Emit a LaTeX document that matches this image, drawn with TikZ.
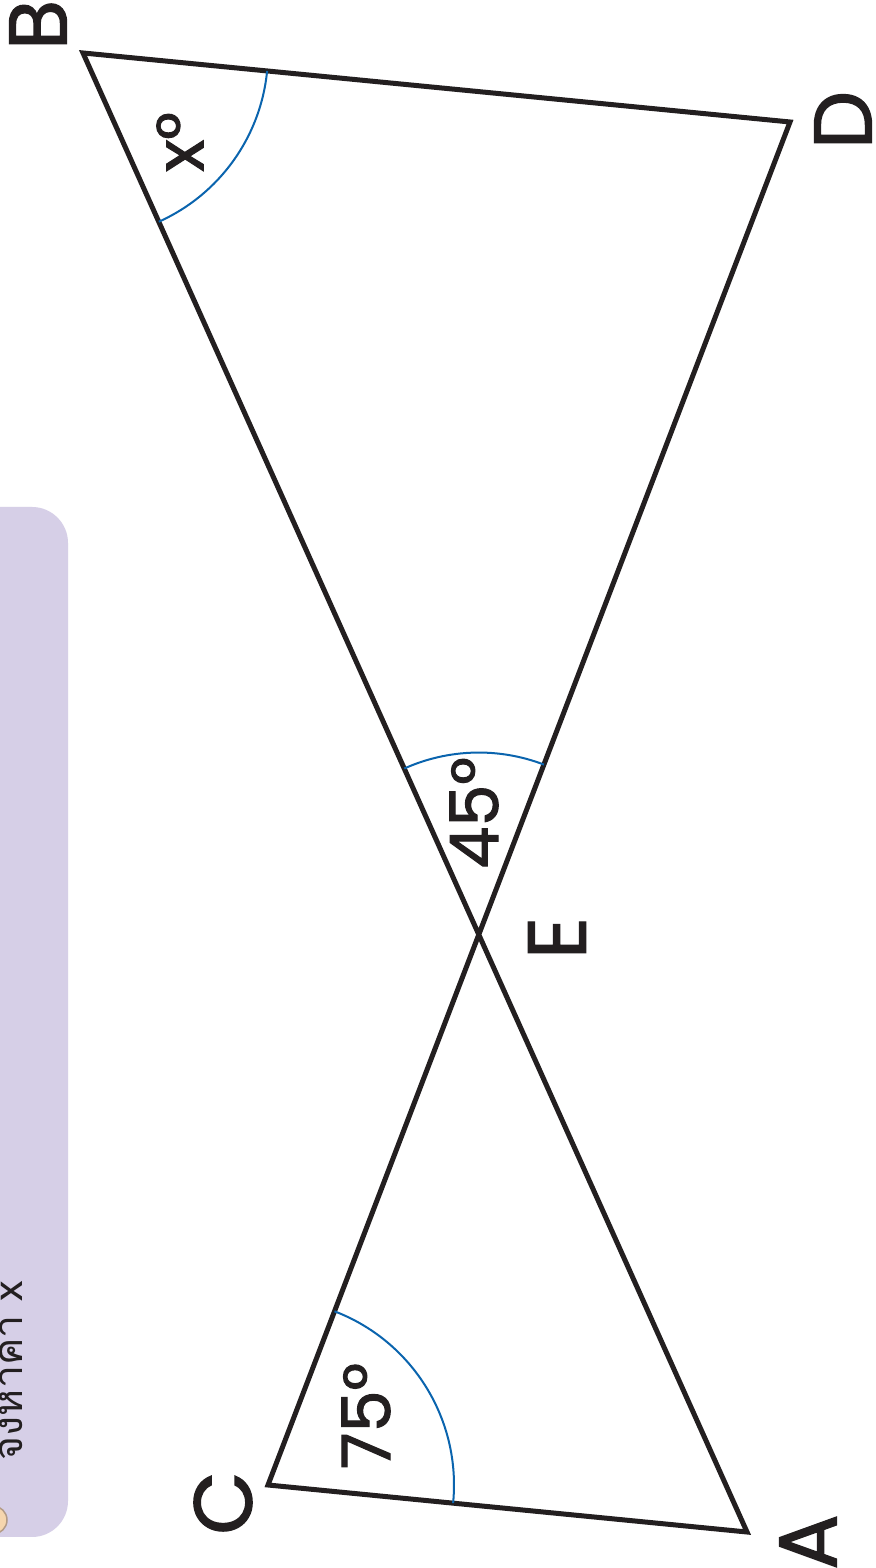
\documentclass[tikz,border=0pt]{standalone}
\usepackage{fontspec}
\setmainfont{Poppins}
\newfontfamily\labelfont{Poppins}[FakeBold=1.6]
\newfontfamily\thaifont[Script=Thai]{Loma}
\usetikzlibrary{angles,calc}
\definecolor{ink}{HTML}{231F20}
\definecolor{arcblue}{HTML}{0A64AE}
\definecolor{panel}{HTML}{D6CFE7}
\definecolor{peach}{HTML}{F6D6AE}
\definecolor{peachline}{HTML}{B39B86}
\begin{document}
\begin{tikzpicture}[x=1pt,y=1pt,
  vlabel/.style={rotate=90,font=\labelfont\fontsize{82}{82}\selectfont,text=ink,inner sep=0pt},
  alabel/.style={rotate=90,font=\labelfont\fontsize{67}{67}\selectfont,text=ink,inner sep=0pt},
  edge/.style={draw=ink,line width=5pt,line join=miter},
  anglemark/.style={draw=arcblue,line width=2pt}]
\clip (0,0) rectangle (875,1568);
\fill[white] (0,0) rectangle (875,1568);
% side panel
\fill[panel, rounded corners=36pt] (-60,31) rectangle (68,1061);
\filldraw[fill=peach, draw=peachline, line width=1.5pt] (-7,48) circle (14);
\node[rotate=90, anchor=base east, font=\thaifont\fontsize{41}{41}\selectfont, text=ink, inner sep=0pt] (task) at (22,287) {จงหาค่า x};
% vertices
\coordinate (B) at (83,1515);
\coordinate (D) at (790,1446);
\coordinate (C) at (268,83);
\coordinate (A) at (747,36);
\coordinate (E) at (intersection of B--A and D--C);
% figure
\draw[edge] (B) -- (D) -- (C) -- (A) -- cycle;
\pic[anglemark, angle radius=185pt] {angle=A--B--D};
\pic[anglemark, angle radius=186pt] {angle=A--C--D};
\pic[anglemark, angle radius=182pt] {angle=D--E--B};
% labels
\node[vlabel] (lB) at (38,1543) {B};
\node[vlabel] (lD) at (843,1448) {D};
\node[vlabel] (lC) at (223,65) {C};
\node[vlabel] (lA) at (808,26) {A};
\node[vlabel] (lE) at (557,630) {E};
\node[alabel] (ax) at (180,1426) {x°};
\node[alabel] (a75) at (366,152) {75°};
\node[alabel] (a45) at (474,755) {45°};
\end{tikzpicture}
\end{document}
